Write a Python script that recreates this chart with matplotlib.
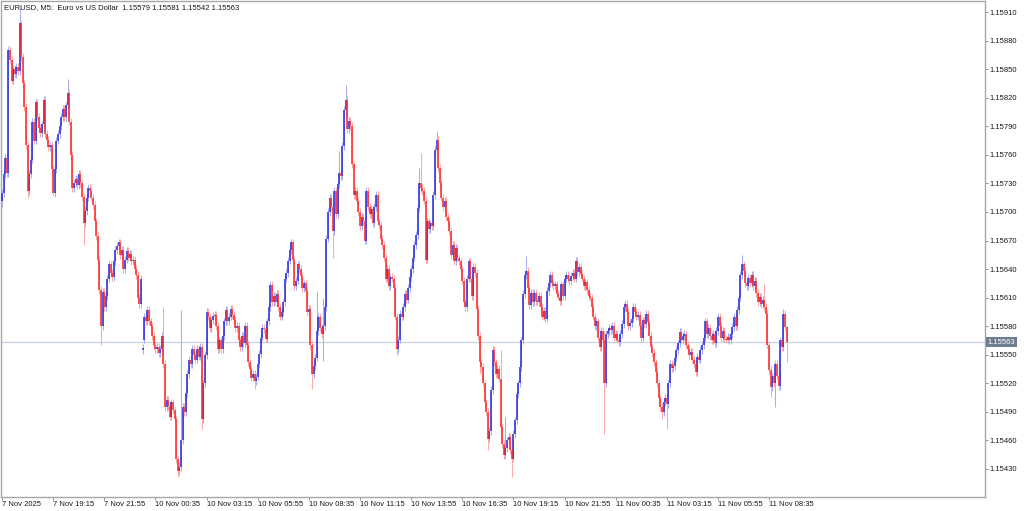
import matplotlib
matplotlib.use("Agg")
import matplotlib.pyplot as plt
import numpy as np

# ---- chart text ----
title_text = "EURUSD, M5:  Euro vs US Dollar  1.15579 1.15581 1.15542 1.15563"
time_labels = ["7 Nov 2025", "7 Nov 19:15", "7 Nov 21:55", "10 Nov 00:35", "10 Nov 03:15",
               "10 Nov 05:55", "10 Nov 08:35", "10 Nov 11:15", "10 Nov 13:55", "10 Nov 16:35",
               "10 Nov 19:15", "10 Nov 21:55", "11 Nov 00:35", "11 Nov 03:15", "11 Nov 05:55",
               "11 Nov 08:35"]
label_bars = [0, 32, 64, 96, 128, 160, 192, 224, 256, 288, 320, 352, 384, 416, 448, 480]
price_ticks = [1.15430, 1.15460, 1.15490, 1.15520, 1.15550, 1.15580, 1.15610, 1.15640,
               1.15670, 1.15700, 1.15730, 1.15760, 1.15790, 1.15820, 1.15850, 1.15880, 1.15910]
bid_price = 1.15563

# ---- M5 closes, in points above 1.15000 ----
closes = [
    720, 740, 757, 741, 870, 860, 838, 850, 845, 852,
    848, 898, 863, 835, 810, 770, 722, 740, 755, 795,
    775, 815, 800, 788, 783, 792, 818, 782, 776, 768,
    770, 745, 720, 745, 775, 782, 790, 800, 808, 800,
    812, 825, 795, 760, 725, 730, 735, 728, 740, 730,
    716, 688, 701, 715, 725, 722, 715, 707, 690, 675,
    650, 618, 580, 616, 600, 612, 630, 645, 636, 632,
    648, 660, 664, 668, 655, 660, 640, 650, 659, 652,
    656, 648, 650, 640, 634, 610, 603, 630, 557, 590,
    585, 597, 585, 580, 570, 560, 556, 558, 552, 556,
    570, 540, 495, 503, 496, 485, 500, 492, 482, 440,
    428, 432, 460, 495, 490, 510, 530, 545, 540, 556,
    550, 545, 556, 548, 558, 482, 520, 550, 595, 590,
    578, 586, 591, 592, 580, 556, 565, 556, 570, 585,
    597, 585, 590, 598, 592, 587, 578, 580, 565, 558,
    570, 562, 580, 560, 542, 535, 526, 530, 522, 527,
    540, 551, 568, 578, 577, 567, 585, 600, 623, 605,
    612, 605, 614, 600, 590, 595, 605, 630, 636, 649,
    660, 668, 650, 622, 628, 645, 640, 633, 620, 625,
    617, 595, 598, 560, 530, 538, 547, 575, 590, 578,
    572, 580, 600, 672, 700, 715, 705, 680, 722, 698,
    729, 741, 738, 769, 807, 818, 787, 796, 790, 750,
    718, 722, 712, 700, 685, 695, 690, 670, 722, 705,
    698, 703, 688, 705, 718, 690, 686, 672, 665, 652,
    630, 640, 622, 632, 630, 620, 590, 556, 566, 593,
    590, 600, 614, 608, 620, 632, 640, 652, 665, 676,
    704, 730, 725, 722, 712, 650, 690, 682, 688, 685,
    718, 765, 776, 746, 730, 715, 705, 712, 695, 690,
    680, 655, 665, 648, 662, 652, 648, 640, 628, 605,
    600, 630, 648, 630, 612, 642, 636, 598, 570, 542,
    537, 520, 500, 490, 462, 470, 513, 555, 542, 530,
    535, 525, 474, 456, 445, 452, 460, 464, 450, 441,
    467, 481, 509, 520, 537, 565, 614, 634, 638, 620,
    602, 615, 605, 615, 606, 605, 612, 600, 590, 596,
    588, 617, 625, 634, 625, 622, 624, 614, 611, 606,
    624, 612, 630, 634, 630, 627, 633, 636, 630, 649,
    637, 642, 635, 630, 622, 626, 618, 612, 610, 600,
    590, 580, 585, 568, 558, 575, 566, 520, 572, 575,
    578, 576, 580, 568, 572, 566, 563, 572, 582, 600,
    603, 595, 580, 583, 588, 600, 595, 590, 592, 580,
    568, 586, 582, 593, 584, 570, 558, 552, 542, 532,
    520, 505, 495, 490, 500, 505, 498, 520, 540, 536,
    538, 547, 555, 562, 574, 565, 570, 572, 560, 556,
    550, 553, 545, 540, 532, 548, 545, 555, 560, 568,
    585, 572, 578, 570, 565, 572, 562, 575, 590, 580,
    568, 575, 567, 566, 569, 565, 572, 579, 590, 580,
    597, 610, 634, 645, 638, 625, 622, 631, 625, 634,
    622, 628, 615, 605, 611, 603, 608, 600, 593, 560,
    534, 516, 528, 520, 540, 528, 517, 565, 558, 593,
    579, 563,
]
# opens that differ from the previous close (start of data, weekend gap)
open_fix = {0: 712, 88: 555, 89: 566}
# long shadows visible on the chart
high_fix = {11: 915, 41: 840, 101: 600, 112: 597, 197: 617, 201: 610, 211: 764,
            215: 833, 261: 746, 262: 762, 272: 785, 312: 555, 315: 485, 328: 654,
            377: 575, 390: 608, 463: 655, 477: 624, 489: 598, 491: 581}
low_fix = {0: 705, 16: 715, 32: 717, 51: 665, 62: 560, 110: 422, 125: 472, 158: 514,
           194: 514, 201: 543, 207: 652, 247: 550, 299: 530, 304: 450, 319: 422,
           377: 467, 413: 482, 416: 472, 481: 506, 484: 495, 491: 542}

base = 1.15
pt = 1e-5

c = np.array(closes, dtype=float)
o = np.r_[c[0], c[:-1]]
for k, v in open_fix.items():
    o[k] = v
hi = np.maximum(o, c) + 4
lo = np.minimum(o, c) - 4
for k, v in high_fix.items():
    hi[k] = v
for k, v in low_fix.items():
    lo[k] = v

x = np.arange(len(c))
up = c >= o

fig = plt.figure(figsize=(10.24, 5.11), dpi=100)
ax = fig.add_axes([1 / 1024, (511 - 496.7) / 511, 984 / 1024, 495.7 / 511])

# shadows (light) then bodies (solid)
ax.vlines(x[up], base + lo[up] * pt, base + hi[up] * pt, color="#a9adef", lw=0.75, zorder=2)
ax.vlines(x[~up], base + lo[~up] * pt, base + hi[~up] * pt, color="#ffaaaa", lw=0.75, zorder=2)
b_lo = np.minimum(o, c)
b_hi = np.maximum(o, c)
b_hi = np.where(b_hi - b_lo < 1, b_lo + 1, b_hi)
ax.vlines(x[up], base + b_lo[up] * pt, base + b_hi[up] * pt, color="#2f2fdc", lw=1.15, zorder=3)
ax.vlines(x[~up], base + b_lo[~up] * pt, base + b_hi[~up] * pt, color="#ff2b2b", lw=1.15, zorder=3)

# bid line
ax.axhline(bid_price, color="#c9d2df", lw=0.9, zorder=1)

ax.set_xlim(-0.626, 615.1)
ax.set_ylim(base + 400.9 * pt, base + 921.6 * pt)

# price scale on the right
ax.yaxis.tick_right()
ax.set_yticks(price_ticks)
ax.set_yticklabels([f"{p:.5f}" for p in price_ticks])
ax.tick_params(axis="y", direction="out", length=2.2, width=0.6, color="#808080",
               pad=1.2, labelsize=5.5, labelcolor="#181818")
ax.set_xticks(label_bars)
ax.set_xticklabels(time_labels)
for lbl in ax.get_xticklabels():
    lbl.set_horizontalalignment("left")
ax.tick_params(axis="x", direction="out", length=2.2, width=0.6, color="#808080",
               pad=1.0, labelsize=5.5, labelcolor="#181818")

for s in ax.spines.values():
    s.set_color("#a8a8a8")
    s.set_linewidth(1.0)

ax.text(1.003, bid_price, f"{bid_price:.5f}", transform=ax.get_yaxis_transform(),
        ha="left", va="center", fontsize=5.5, color="white", clip_on=False,
        bbox=dict(boxstyle="square,pad=0.2", facecolor="#6e7d8e", edgecolor="none"))

ax.text(0.003, 0.993, title_text, transform=ax.transAxes, ha="left", va="top",
        fontsize=5.5, color="#181818")

plt.rcParams["font.family"] = ["Liberation Sans", "DejaVu Sans"]
for t in ax.texts + ax.get_xticklabels() + ax.get_yticklabels():
    t.set_family(["Liberation Sans", "DejaVu Sans"])

fig.savefig("out.png", dpi=100, facecolor="white")
